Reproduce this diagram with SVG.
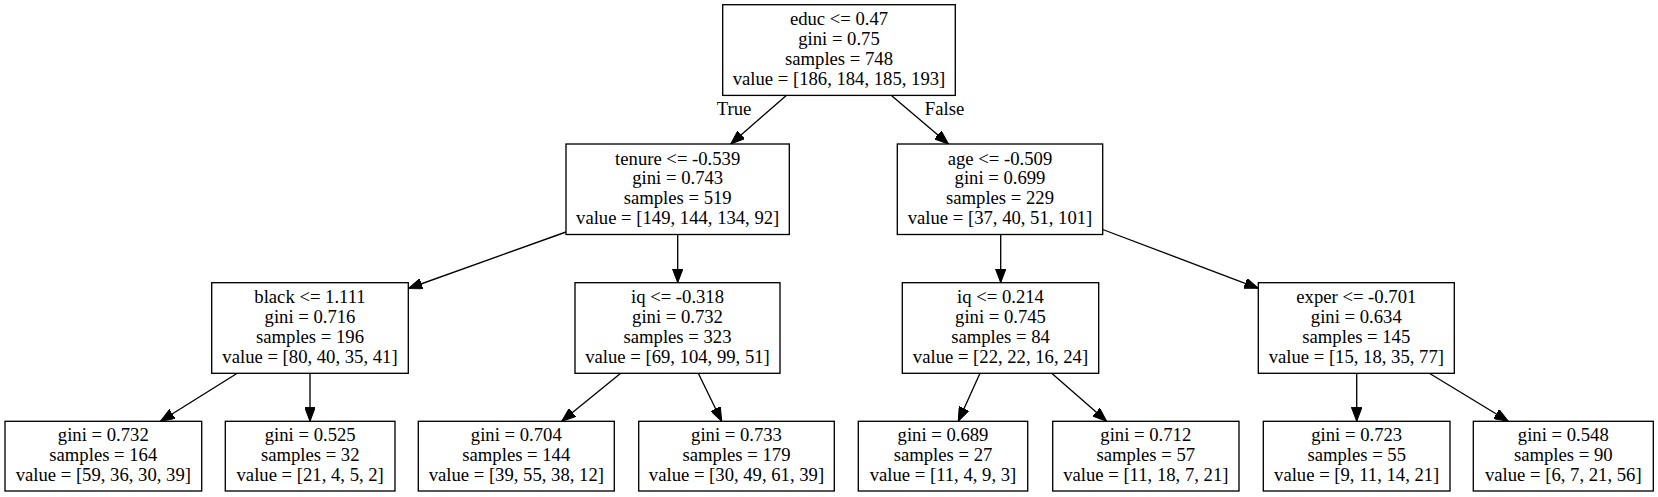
<svg xmlns="http://www.w3.org/2000/svg" width="1658" height="497" viewBox="0 0 1658 497">
<style>
.n rect{fill:#fff;stroke:#000;stroke-width:1.33}
text{font-family:"Liberation Serif","Times New Roman",serif;font-size:18.67px;fill:#000;text-anchor:middle}
.c line{stroke:#000;stroke-width:1.33;marker-end:url(#ah)}
</style>
<defs>
<marker id="ah" viewBox="0 -5.3 14 10.6" refX="14" refY="0" markerWidth="14" markerHeight="10.6" markerUnits="userSpaceOnUse" orient="auto">
<path d="M0,-5.3 L14,0 L0,5.3 z" fill="#000" stroke="#000" stroke-width="1"/>
</marker>
</defs>
<rect width="1658" height="497" fill="#fff"/>
<g class="c" id="connectors">
<line x1="786" y1="95.7" x2="730.7" y2="144"/>
<line x1="891.7" y1="95.7" x2="948.5" y2="144"/>
<line x1="566" y1="232" x2="408.3" y2="288.5"/>
<line x1="677.7" y1="234.5" x2="677.7" y2="282.7"/>
<line x1="1000.7" y1="234.5" x2="1000.7" y2="282.7"/>
<line x1="1102.7" y1="229.5" x2="1258.3" y2="288.3"/>
<line x1="237.3" y1="373.3" x2="160.5" y2="421.3"/>
<line x1="310" y1="373.3" x2="310" y2="421.3"/>
<line x1="620.7" y1="373.3" x2="561.7" y2="421.3"/>
<line x1="698.3" y1="373.3" x2="721.7" y2="421.3"/>
<line x1="980" y1="373.3" x2="958.3" y2="421.3"/>
<line x1="1051.7" y1="373.3" x2="1106.7" y2="421.3"/>
<line x1="1356.7" y1="373.3" x2="1356.7" y2="421.3"/>
<line x1="1429.3" y1="373.3" x2="1508.3" y2="421.3"/>
<text x="734" y="115">True</text>
<text x="944.5" y="115">False</text>
</g>
<g class="n" id="n0"><rect x="722.7" y="4.7" width="232.6" height="90.7"/>
<text x="839" y="25.4">educ &lt;= 0.47</text><text x="839" y="45.2">gini = 0.75</text><text x="839" y="65">samples = 748</text><text x="839" y="84.8">value = [186, 184, 185, 193]</text></g>
<g class="n" id="n1"><rect x="566" y="144" width="223.3" height="90.5"/>
<text x="677.7" y="164.6">tenure &lt;= -0.539</text><text x="677.7" y="184.4">gini = 0.743</text><text x="677.7" y="204.2">samples = 519</text><text x="677.7" y="224">value = [149, 144, 134, 92]</text></g>
<g class="n" id="n2"><rect x="897.3" y="144" width="205.4" height="90.5"/>
<text x="1000" y="164.6">age &lt;= -0.509</text><text x="1000" y="184.4">gini = 0.699</text><text x="1000" y="204.2">samples = 229</text><text x="1000" y="224">value = [37, 40, 51, 101]</text></g>
<g class="n" id="n3"><rect x="211.7" y="282.7" width="196.6" height="90.6"/>
<text x="310" y="303.3">black &lt;= 1.111</text><text x="310" y="323.1">gini = 0.716</text><text x="310" y="342.9">samples = 196</text><text x="310" y="362.7">value = [80, 40, 35, 41]</text></g>
<g class="n" id="n4"><rect x="575" y="282.7" width="205" height="90.6"/>
<text x="677.5" y="303.3">iq &lt;= -0.318</text><text x="677.5" y="323.1">gini = 0.732</text><text x="677.5" y="342.9">samples = 323</text><text x="677.5" y="362.7">value = [69, 104, 99, 51]</text></g>
<g class="n" id="n5"><rect x="902.3" y="282.7" width="196.4" height="90.6"/>
<text x="1000.5" y="303.3">iq &lt;= 0.214</text><text x="1000.5" y="323.1">gini = 0.745</text><text x="1000.5" y="342.9">samples = 84</text><text x="1000.5" y="362.7">value = [22, 22, 16, 24]</text></g>
<g class="n" id="n6"><rect x="1258.3" y="282.7" width="196" height="90.6"/>
<text x="1356.3" y="303.3">exper &lt;= -0.701</text><text x="1356.3" y="323.1">gini = 0.634</text><text x="1356.3" y="342.9">samples = 145</text><text x="1356.3" y="362.7">value = [15, 18, 35, 77]</text></g>
<g class="n" id="n7"><rect x="5" y="421.3" width="196.7" height="69.7"/>
<text x="103.3" y="441.3">gini = 0.732</text><text x="103.3" y="461.1">samples = 164</text><text x="103.3" y="480.9">value = [59, 36, 30, 39]</text></g>
<g class="n" id="n8"><rect x="225.3" y="421.3" width="169.7" height="69.7"/>
<text x="310.2" y="441.3">gini = 0.525</text><text x="310.2" y="461.1">samples = 32</text><text x="310.2" y="480.9">value = [21, 4, 5, 2]</text></g>
<g class="n" id="n9"><rect x="418.3" y="421.3" width="196" height="69.7"/>
<text x="516.3" y="441.3">gini = 0.704</text><text x="516.3" y="461.1">samples = 144</text><text x="516.3" y="480.9">value = [39, 55, 38, 12]</text></g>
<g class="n" id="n10"><rect x="638.7" y="421.3" width="195.6" height="69.7"/>
<text x="736.5" y="441.3">gini = 0.733</text><text x="736.5" y="461.1">samples = 179</text><text x="736.5" y="480.9">value = [30, 49, 61, 39]</text></g>
<g class="n" id="n11"><rect x="858.3" y="421.3" width="169.4" height="69.7"/>
<text x="943" y="441.3">gini = 0.689</text><text x="943" y="461.1">samples = 27</text><text x="943" y="480.9">value = [11, 4, 9, 3]</text></g>
<g class="n" id="n12"><rect x="1052.7" y="421.3" width="186.3" height="69.7"/>
<text x="1145.8" y="441.3">gini = 0.712</text><text x="1145.8" y="461.1">samples = 57</text><text x="1145.8" y="480.9">value = [11, 18, 7, 21]</text></g>
<g class="n" id="n13"><rect x="1263.3" y="421.3" width="186.7" height="69.7"/>
<text x="1356.7" y="441.3">gini = 0.723</text><text x="1356.7" y="461.1">samples = 55</text><text x="1356.7" y="480.9">value = [9, 11, 14, 21]</text></g>
<g class="n" id="n14"><rect x="1473.3" y="421.3" width="180" height="69.7"/>
<text x="1563.3" y="441.3">gini = 0.548</text><text x="1563.3" y="461.1">samples = 90</text><text x="1563.3" y="480.9">value = [6, 7, 21, 56]</text></g>
</svg>
